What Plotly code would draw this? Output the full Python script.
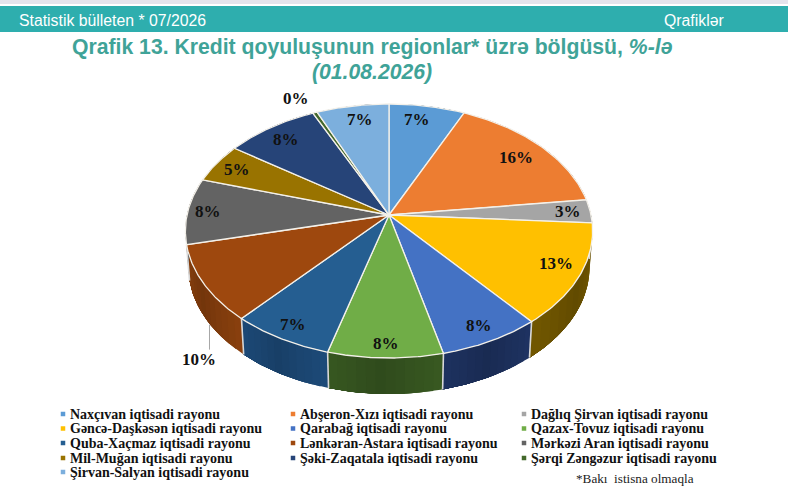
import numpy as np
import plotly.graph_objects as go

regions = [
    "Naxçıvan iqtisadi rayonu",
    "Abşeron-Xızı iqtisadi rayonu",
    "Dağlıq Şirvan iqtisadi rayonu",
    "Gəncə-Daşkəsən iqtisadi rayonu",
    "Qarabağ iqtisadi rayonu",
    "Qazax-Tovuz iqtisadi rayonu",
    "Quba-Xaçmaz iqtisadi rayonu",
    "Lənkəran-Astara iqtisadi rayonu",
    "Mərkəzi Aran iqtisadi rayonu",
    "Mil-Muğan iqtisadi rayonu",
    "Şəki-Zaqatala iqtisadi rayonu",
    "Şərqi Zəngəzur iqtisadi rayonu",
    "Şirvan-Salyan iqtisadi rayonu",
]
# shares estimated from the slice edges, the printed labels are rounded
values = [6.8, 16.2, 3.0, 13.0, 7.2, 8.1, 7.2, 9.8, 8.4, 5.0, 8.4, 0.4, 6.5]
pct_labels = ["7%", "16%", "3%", "13%", "8%", "8%", "7%", "10%", "8%", "5%", "8%", "0%", "7%"]
colors = [
    "#5B9BD5", "#ED7D31", "#A5A5A5", "#FFC000", "#4472C4", "#70AD47", "#255E91",
    "#9E480E", "#636363", "#997300", "#264478", "#43682B", "#7CAFDD",
]
wall_colors = [
    "#2F5F8A", "#8A4318", "#5A5A5A", "#6B5200", "#1C2F5A", "#34521F", "#1B4570",
    "#7E3B0D", "#3A3A3A", "#5A4400", "#16294A", "#263D19", "#47698A",
]
# how far out each label sits, 1 = rim
label_r = [0.855, 0.83, 0.89, 0.87, 0.89, 0.91, 0.90, 1.30, 0.90, 0.877, 0.856, 1.18, 0.86]
label_turn = [-2, 0, 0, -2, 0, 0, 0, -20, 0, 0, 0, -2, 1]

# perspective of the tilted disc, in page pixels
CX, CY = 389, 215
A, B, K = 202, 125, 0.126
DEPTH = 36


def project(theta, r=1.0, base=False):
    u = r * np.sin(theta)
    v = r * np.cos(theta)
    d = 1 + K * v
    x = A * u / d
    y = B * v / d
    if base:
        return CX + 0.985 * x, CY - y + DEPTH
    return CX + x, CY - y


def shade(hex_color, f):
    rgb = [int(hex_color[i:i + 2], 16) for i in (1, 3, 5)]
    return "rgb(%d,%d,%d)" % tuple(min(255, int(c * f)) for c in rgb)


edges = np.concatenate([[0], np.cumsum(values)]) / sum(values) * 2 * np.pi

fig = go.Figure()


def poly(xs, ys, fill, line=None, width=0):
    fig.add_trace(
        go.Scatter(
            x=xs,
            y=ys,
            mode="lines",
            fill="toself",
            fillcolor=fill,
            line=dict(color=line or fill, width=width),
            hoverinfo="skip",
            showlegend=False,
        )
    )


# side wall first, strips overlap the next one so no gaps show
for i, c in enumerate(wall_colors):
    strips = np.linspace(edges[i], edges[i + 1], 13)
    for j in range(12):
        t = np.linspace(strips[j], edges[i + 1], 20)
        x1, y1 = project(t)
        x2, y2 = project(t, base=True)
        f = 0.92 + 0.16 * abs(j - 6) / 6
        poly(np.r_[x1, x2[::-1]], np.r_[y1, y2[::-1]], shade(c, f))

# seams of the wall on the front half
for e in edges:
    if np.cos(e) < 0.1:
        x1, y1 = project(e)
        x2, y2 = project(e, base=True)
        fig.add_trace(
            go.Scatter(
                x=[x1, x2],
                y=[y1, y2],
                mode="lines",
                line=dict(color="#d8d8d8", width=1.6),
                hoverinfo="skip",
                showlegend=False,
            )
        )

# top face
for i, c in enumerate(colors):
    t = np.linspace(edges[i], edges[i + 1], 60)
    x, y = project(t)
    poly(np.r_[CX, x, CX], np.r_[CY, y, CY], c, line="#f4f1ea", width=1.3)

# leader of the 10% label
mid = [(edges[i] + edges[i + 1]) / 2 for i in range(len(values))]
lab_x, lab_y = [], []
for i in range(len(values)):
    x, y = project(mid[i] + np.radians(label_turn[i]), label_r[i])
    lab_x.append(x)
    lab_y.append(y)
fig.add_trace(
    go.Scatter(
        x=[lab_x[7] + 10, lab_x[7] + 10],
        y=[lab_y[7] - 35, lab_y[7] - 10],
        mode="lines",
        line=dict(color="#a6a6a6", width=1),
        hoverinfo="skip",
        showlegend=False,
    )
)

for i, txt in enumerate(pct_labels):
    fig.add_annotation(
        x=lab_x[i],
        y=lab_y[i],
        text=txt,
        showarrow=False,
        font=dict(family="Liberation Serif", size=17, color="#111111", weight="bold"),
    )

# legend, three columns filled row by row
col_x = [68, 298, 529]
row_y = [414, 428.5, 443, 458, 472]
leg_x = [col_x[i % 3] for i in range(len(regions))]
leg_y = [row_y[i // 3] for i in range(len(regions))]
fig.add_trace(
    go.Scatter(
        x=[v - 5 for v in leg_x],
        y=leg_y,
        mode="markers",
        marker=dict(symbol="square", size=4.5, color=colors),
        hoverinfo="skip",
        showlegend=False,
    )
)
for name, x, y in zip(regions, leg_x, leg_y):
    fig.add_annotation(
        x=x,
        y=y,
        text=name,
        xanchor="left",
        showarrow=False,
        font=dict(family="Liberation Serif", size=14, color="#111111", weight="bold"),
    )

fig.add_annotation(
    x=574,
    y=478,
    text="*Bakı  istisna olmaqla",
    xanchor="left",
    showarrow=False,
    font=dict(family="Liberation Serif", size=13.2, color="#222222"),
)

# page header
fig.add_shape(type="rect", x0=0, x1=788, y0=0, y1=4, fillcolor="#e4e4ec", line_width=0, layer="below")
fig.add_shape(type="rect", x0=0, x1=788, y0=6, y1=32, fillcolor="#2EAEAE", line_width=0, layer="below")
fig.add_annotation(
    x=17,
    y=20,
    text="Statistik bülleten * 07/2026",
    xanchor="left",
    showarrow=False,
    font=dict(family="Liberation Sans", size=15.8, color="white"),
)
fig.add_annotation(
    x=726,
    y=20,
    text="Qrafiklər",
    xanchor="right",
    showarrow=False,
    font=dict(family="Liberation Sans", size=15.8, color="white"),
)
fig.add_annotation(
    x=372,
    y=47,
    text="<b>Qrafik 13. Kredit qoyuluşunun regionlar* üzrə bölgüsü, <i>%-lə</i></b>",
    showarrow=False,
    font=dict(family="Liberation Sans", size=21.2, color="#3FA398"),
)
fig.add_annotation(
    x=372,
    y=72,
    text="<b><i>(01.08.2026)</i></b>",
    showarrow=False,
    font=dict(family="Liberation Sans", size=21.2, color="#3FA398"),
)

fig.update_layout(
    width=788,
    height=504,
    margin=dict(l=0, r=0, t=0, b=0),
    paper_bgcolor="white",
    plot_bgcolor="white",
    showlegend=False,
    xaxis=dict(range=[0, 788], visible=False, fixedrange=True),
    yaxis=dict(range=[504, 0], visible=False, fixedrange=True),
)

fig.write_html("out.html", post_script="document.body.style.margin='0';", config=dict(displayModeBar=False))
